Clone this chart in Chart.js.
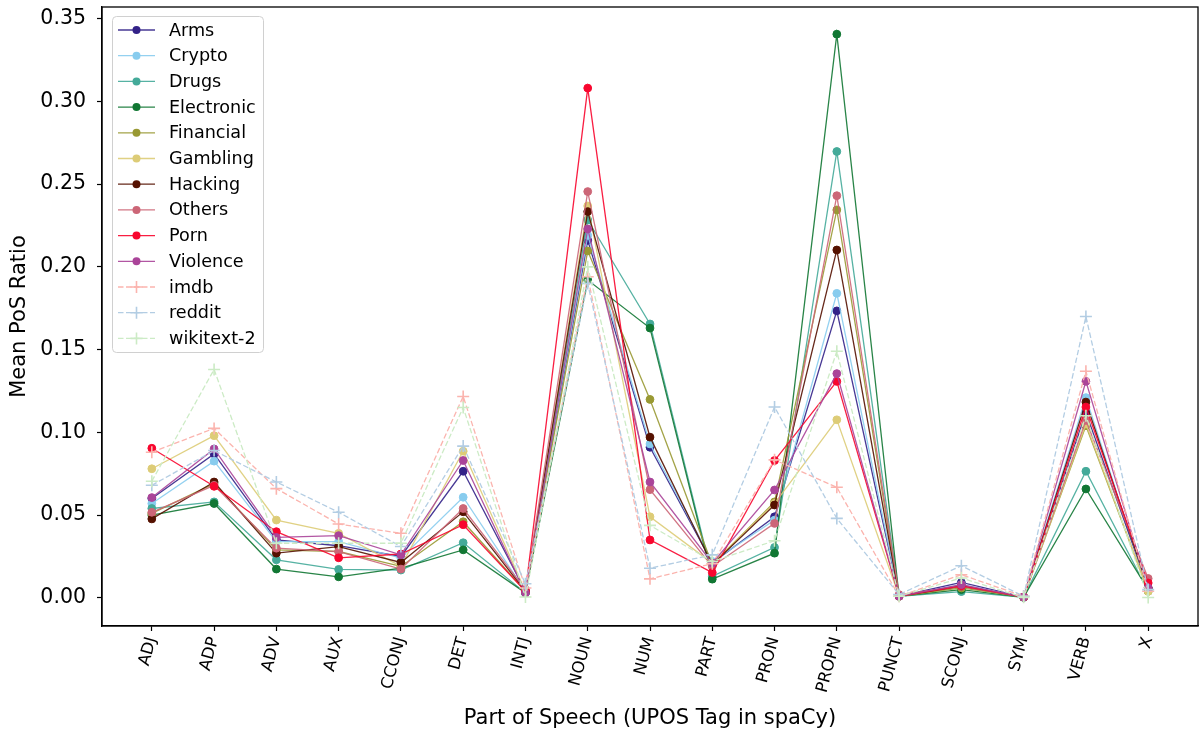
<!DOCTYPE html>
<html>
<head>
<meta charset="utf-8">
<title>Mean PoS Ratio</title>
<script src="https://cdn.jsdelivr.net/npm/chart.js@4.4.1/dist/chart.umd.min.js"></script>
<style>
  html, body { margin: 0; padding: 0; background: #ffffff; }
  #wrap { width: 1200px; height: 736px; }
</style>
</head>
<body>
<div id="wrap"><canvas id="posChart" width="1200" height="736"></canvas></div>
<script>
var tags = ["ADJ", "ADP", "ADV", "AUX", "CCONJ", "DET", "INTJ", "NOUN", "NUM", "PART", "PRON", "PROPN", "PUNCT", "SCONJ", "SYM", "VERB", "X"];
var yTicks = [0, 0.05, 0.10, 0.15, 0.20, 0.25, 0.30, 0.35];

var seriesNames = ["Arms", "Crypto", "Drugs", "Electronic", "Financial", "Gambling", "Hacking", "Others", "Porn", "Violence", "imdb", "reddit", "wikitext-2"];

// note: "crypto" is taken by window.crypto, so every series gets a Ratios suffix
var armsRatios       = [0.060, 0.087, 0.035, 0.0315, 0.025, 0.0765, 0.004, 0.216, 0.091, 0.021, 0.049, 0.1734, 0.001, 0.0093, 0.0005, 0.112, 0.006];
var cryptoRatios     = [0.057, 0.0826, 0.034, 0.034, 0.024, 0.0608, 0.004, 0.219, 0.093, 0.022, 0.047, 0.184, 0.001, 0.008, 0.0005, 0.121, 0.005];
var drugsRatios      = [0.054, 0.058, 0.023, 0.0172, 0.0168, 0.0333, 0.003, 0.2283, 0.1655, 0.013, 0.0305, 0.2697, 0.001, 0.0038, 0.0003, 0.0765, 0.004];
var electronicRatios = [0.050, 0.057, 0.0174, 0.0127, 0.018, 0.029, 0.003, 0.192, 0.163, 0.0113, 0.027, 0.3406, 0.001, 0.005, 0.0003, 0.0658, 0.005];
var financialRatios  = [0.051, 0.069, 0.029, 0.028, 0.019, 0.046, 0.004, 0.2096, 0.1199, 0.020, 0.058, 0.2344, 0.001, 0.006, 0.0005, 0.104, 0.004];
var gamblingRatios   = [0.078, 0.098, 0.047, 0.039, 0.019, 0.0886, 0.004, 0.2368, 0.049, 0.021, 0.057, 0.1076, 0.001, 0.007, 0.0005, 0.105, 0.004];
var hackingRatios    = [0.0477, 0.070, 0.027, 0.031, 0.0214, 0.052, 0.004, 0.2334, 0.0971, 0.020, 0.0561, 0.2102, 0.001, 0.007, 0.0005, 0.1183, 0.006];
var othersRatios     = [0.0517, 0.068, 0.030, 0.028, 0.0174, 0.054, 0.005, 0.2455, 0.0654, 0.019, 0.045, 0.243, 0.002, 0.007, 0.0005, 0.1072, 0.0117];
var pornRatios       = [0.0904, 0.0674, 0.040, 0.0242, 0.0265, 0.0442, 0.004, 0.308, 0.035, 0.0153, 0.083, 0.1308, 0.001, 0.0073, 0.0005, 0.1153, 0.009];
var violenceRatios   = [0.0606, 0.090, 0.0365, 0.0376, 0.026, 0.083, 0.003, 0.2229, 0.070, 0.021, 0.0652, 0.1355, 0.001, 0.008, 0.0005, 0.1308, 0.006];
var imdbRatios       = [0.088, 0.1024, 0.066, 0.0446, 0.039, 0.1217, 0.006, 0.194, 0.0115, 0.0206, 0.0834, 0.0668, 0.001, 0.014, 0.001, 0.1369, 0.004];
var redditRatios     = [0.068, 0.089, 0.070, 0.0517, 0.031, 0.0917, 0.0085, 0.190, 0.0179, 0.026, 0.1153, 0.048, 0.002, 0.0194, 0.001, 0.170, 0.005];
var wikitextRatios   = [0.0705, 0.138, 0.033, 0.033, 0.033, 0.115, 0.0005, 0.200, 0.0438, 0.022, 0.0345, 0.149, 0.001, 0.012, 0.0003, 0.110, 0.0002];

var seriesValues = [armsRatios, cryptoRatios, drugsRatios, electronicRatios, financialRatios, gamblingRatios, hackingRatios,
  othersRatios, pornRatios, violenceRatios, imdbRatios, redditRatios, wikitextRatios];
var seriesColors = ["#332288", "#88ccee", "#44aa99", "#117733", "#999933", "#ddcc77", "#551100", "#cc6677", "#f8062e", "#aa4499", "#fbb4ae", "#b3cde3", "#ccebc5"];
var dashedSeries = ["imdb", "reddit", "wikitext-2"];

var FONT = "'DejaVu Sans', sans-serif";

function withAlpha(hex, a) {
  var r = parseInt(hex.substr(1, 2), 16);
  var g = parseInt(hex.substr(3, 2), 16);
  var b = parseInt(hex.substr(5, 2), 16);
  return "rgba(" + r + "," + g + "," + b + "," + a + ")";
}

function buildDatasets() {
  var sets = [];
  for (var i = 0; i < seriesNames.length; i++) {
    var dashed = dashedSeries.indexOf(seriesNames[i]) >= 0;
    var pts = seriesValues[i].map(function(v, j) { return { x: j, y: v }; });
    sets.push({
      label: seriesNames[i],
      data: pts,
      borderColor: dashed ? seriesColors[i] : withAlpha(seriesColors[i], 0.9),
      backgroundColor: seriesColors[i],
      pointBackgroundColor: seriesColors[i],
      pointBorderColor: seriesColors[i],
      borderWidth: 1.3,
      borderDash: dashed ? [5.5, 2.5] : [],
      pointStyle: dashed ? "cross" : "circle",
      pointRadius: dashed ? 6 : 3.9,
      pointBorderWidth: dashed ? 1.6 : 1,
      tension: 0,
      fill: false,
      clip: false,
      order: seriesNames.length - i
    });
  }
  return sets;
}

// frame on all four sides, like a matplotlib axes box
var framePlugin = {
  id: "frame",
  afterDraw: function(chart) {
    var a = chart.chartArea;
    var c = chart.ctx;
    c.save();
    c.strokeStyle = "#000000";
    c.lineWidth = 1.3;
    c.strokeRect(a.left, a.top, a.right - a.left, a.bottom - a.top);
    c.restore();
  }
};

// legend drawn inside the axes, top left
var insideLegend = {
  id: "insideLegend",
  afterDraw: function(chart) {
    var c = chart.ctx;
    var x0 = 112, y0 = 16, w = 151, h = 336;
    var rowH = 25.7;
    c.save();
    c.fillStyle = "rgba(255,255,255,0.85)";
    c.strokeStyle = "#d0d0d0";
    c.lineWidth = 1;
    c.beginPath();
    c.roundRect(x0 + 0.5, y0 + 0.5, w, h, 4);
    c.fill();
    c.stroke();

    c.font = "17.6px " + FONT;
    c.textBaseline = "middle";
    for (var i = 0; i < seriesNames.length; i++) {
      var cy = y0 + 14 + i * rowH;
      var dashed = dashedSeries.indexOf(seriesNames[i]) >= 0;
      var col = seriesColors[i];
      c.strokeStyle = dashed ? col : withAlpha(col, 0.9);
      c.lineWidth = 1.3;
      c.setLineDash(dashed ? [5.5, 2.5] : []);
      c.beginPath();
      c.moveTo(118, cy);
      c.lineTo(155, cy);
      c.stroke();
      c.setLineDash([]);
      if (dashed) {
        c.strokeStyle = col;
        c.lineWidth = 1.6;
        c.beginPath();
        c.moveTo(130.5, cy); c.lineTo(142.5, cy);
        c.moveTo(136.5, cy - 6); c.lineTo(136.5, cy + 6);
        c.stroke();
      } else {
        c.fillStyle = col;
        c.beginPath();
        c.arc(136.5, cy, 4, 0, Math.PI * 2);
        c.fill();
      }
      c.fillStyle = "#000000";
      c.fillText(seriesNames[i], 169, cy + 1);
    }
    c.restore();
  }
};

var chartCanvas = document.getElementById("posChart");
var ctx = chartCanvas.getContext("2d");

var posChart = new Chart(ctx, {
  type: "line",
  data: { datasets: buildDatasets() },
  plugins: [framePlugin, insideLegend],
  options: {
    responsive: false,
    animation: false,
    devicePixelRatio: 1,
    layout: { autoPadding: false, padding: { top: 7, right: 2, left: 0, bottom: 0 } },
    plugins: {
      legend: { display: false },
      tooltip: { enabled: false }
    },
    scales: {
      x: {
        type: "linear",
        min: -0.8,
        max: 16.8,
        afterBuildTicks: function(scale) {
          scale.ticks = tags.map(function(t, i) { return { value: i }; });
        },
        afterFit: function(scale) {
          scale.height = 110;
          scale.paddingLeft = 0;
          scale.paddingRight = 0;
        },
        ticks: {
          autoSkip: false,
          minRotation: 75,
          maxRotation: 75,
          color: "#000000",
          padding: 4,
          font: { family: FONT, size: 16.5 },
          callback: function(value) { return tags[value]; }
        },
        grid: {
          display: true,
          drawOnChartArea: false,
          drawTicks: true,
          tickLength: 5,
          tickWidth: 1.2,
          tickColor: "#000000"
        },
        border: { display: true, color: "#000000", width: 1.3 },
        title: {
          display: true,
          text: "Part of Speech (UPOS Tag in spaCy)",
          color: "#000000",
          font: { family: FONT, size: 21 },
          padding: { top: 0, bottom: 5 }
        }
      },
      y: {
        type: "linear",
        min: -0.017,
        max: 0.357,
        afterBuildTicks: function(scale) {
          scale.ticks = yTicks.map(function(v) { return { value: v }; });
        },
        afterFit: function(scale) {
          scale.width = 102;
          scale.paddingTop = 0;
          scale.paddingBottom = 0;
        },
        ticks: {
          color: "#000000",
          padding: 11,
          font: { family: FONT, size: 20.5 },
          callback: function(value) { return value.toFixed(2); }
        },
        grid: {
          display: true,
          drawOnChartArea: false,
          drawTicks: true,
          tickLength: 5,
          tickWidth: 1.2,
          tickColor: "#000000"
        },
        border: { display: true, color: "#000000", width: 1.3 },
        title: {
          display: true,
          text: "Mean PoS Ratio",
          color: "#000000",
          font: { family: FONT, size: 21 },
          padding: { top: 7, bottom: 0 }
        }
      }
    }
  }
});
</script>
</body>
</html>
